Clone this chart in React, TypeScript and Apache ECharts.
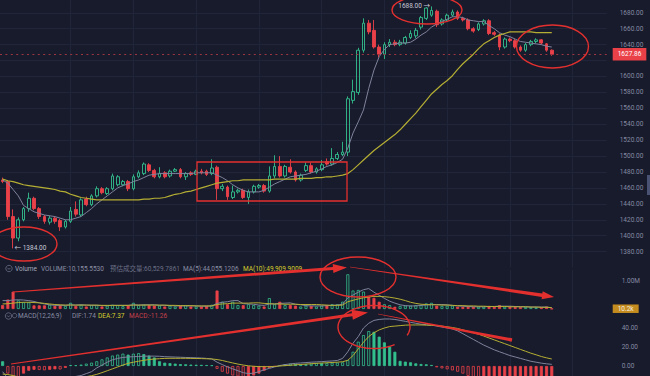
import React, { useEffect, useRef } from "react";
import * as echarts from "echarts";

// ---------------- DATA ----------------
const SLOT_COUNT = 116; // category slots on the time axis (106 candles + empty space on the right)
const gridLineIdx = [13, 25, 37, 49, 61, 73, 85, 97, 109];

const opens = [1470,1468,1424,1397,1420,1434,1447,1434,1424,1417, 1422,1419,1411,1418,1433,1426,1446,1439,1450,1459, 1453,1459,1464,1464,1468,1459,1474,1478,1489,1482, 1474,1479,1475,1481,1483,1474,1479,1477,1481,1481, 1478,1486,1459,1461,1448,1455,1457,1448,1455,1461, 1463,1456,1475,1487,1475,1486,1480,1470,1482,1488, 1480,1483,1493,1490,1497,1502,1505,1570,1580,1633, 1667,1658,1637,1628,1640,1643,1640,1642,1649,1651, 1662,1673,1677,1682,1666,1671,1677,1681,1673,1671, 1660,1659,1666,1670,1655,1652,1637,1647,1645,1637, 1633,1640,1644,1646,1641,1633];
const closes = [1468,1424,1397,1420,1434,1447,1434,1424,1418,1422, 1418,1411,1418,1431,1427,1445,1439,1450,1459,1454, 1459,1475,1474,1468,1459,1474,1479,1490,1482,1474, 1478,1474,1481,1483,1474,1478,1477,1481,1479,1477, 1485,1459,1462,1449,1455,1457,1448,1455,1462,1463, 1456,1475,1487,1475,1487,1480,1470,1476,1488,1480, 1484,1489,1490,1497,1502,1505,1572,1581,1633,1667, 1656,1637,1628,1640,1643,1640,1643,1649,1654,1658, 1674,1686,1683,1665,1671,1677,1681,1673,1671,1660, 1657,1666,1670,1654,1653,1637,1647,1645,1637,1633, 1640,1644,1646,1642,1633,1627.86];
const highs = [1473,1470,1433,1423,1436,1454,1449,1436,1426,1425, 1424,1421,1420,1436,1443,1447,1449,1452,1462,1461, 1461,1478,1476,1470,1470,1477,1482,1492,1491,1484, 1486,1481,1483,1485,1485,1480,1481,1483,1484,1483, 1496,1488,1465,1463,1463,1459,1459,1458,1464,1465, 1465,1487,1501,1500,1489,1496,1482,1478,1492,1492, 1486,1495,1497,1510,1505,1518,1575,1596,1636,1673, 1671,1671,1640,1643,1647,1646,1646,1651,1658,1661, 1676,1687,1688,1684,1673,1679,1684,1683,1675,1673, 1662,1668,1672,1672,1657,1654,1649,1649,1647,1639, 1642,1646,1648,1647,1642,1634];
const lows = [1466,1420,1384,1393,1418,1430,1432,1421,1415,1414, 1415,1406,1409,1416,1424,1424,1437,1437,1448,1452, 1451,1457,1462,1462,1456,1457,1472,1476,1480,1472, 1472,1472,1473,1480,1472,1470,1475,1476,1477,1475, 1476,1445,1456,1445,1446,1453,1446,1440,1453,1459, 1454,1454,1472,1473,1473,1478,1468,1468,1480,1478, 1478,1481,1488,1488,1495,1500,1500,1566,1577,1630, 1653,1635,1624,1622,1637,1638,1638,1640,1647,1648, 1659,1671,1675,1662,1664,1669,1675,1671,1669,1658, 1655,1657,1664,1652,1651,1633,1635,1643,1635,1631, 1631,1638,1642,1640,1631,1626];

// price moving averages
const maShort = [1470,1466,1458,1450,1438,1434,1430,1428,1426,1425, 1424,1422,1420,1420,1422,1424,1429,1434,1440,1445, 1450,1455,1460,1463,1465,1468,1470,1473,1476,1477, 1478,1478,1478,1478,1478,1478,1478,1479,1479,1479, 1479,1476,1473,1469,1464,1460,1457,1455,1455,1455, 1457,1461,1465,1468,1471,1474,1475,1476,1477,1479, 1481,1484,1487,1489,1492,1496,1510,1529,1543,1558, 1585,1608,1625,1634,1640,1641,1642,1642,1643,1647, 1652,1656,1662,1666,1669,1672,1675,1675,1674,1671, 1670,1669,1669,1664,1660,1655,1652,1650,1647,1644, 1643,1642,1641,1640,1638,1637];
const maLong = [1471,1469,1468,1466,1464,1463,1462,1461,1460,1459, 1458,1456,1455,1452,1450,1448,1447,1446,1445,1445, 1445,1445,1445,1445,1445,1445,1445,1446,1446,1447, 1447,1448,1450,1452,1453,1455,1456,1458,1460,1462, 1464,1466,1467,1468,1469,1469,1470,1470,1470,1470, 1470,1470,1471,1471,1471,1471,1471,1472,1472,1472, 1473,1473,1474,1474,1475,1476,1478,1483,1489,1495, 1501,1507,1512,1517,1522,1527,1533,1540,1547,1554, 1562,1570,1578,1584,1590,1595,1601,1609,1616,1622, 1628,1635,1641,1645,1649,1652,1654,1656,1656,1656, 1656,1656,1655,1655,1655,1655];

// volume, in thousands
const volumes = [140,340,620,310,240,240,130,130,130,150, 110,140,110,220,110,150,90,140,140,90, 120,150,140,100,120,220,140,150,140,120, 120,90,120,90,120,140,90,90,90,110, 150,660,260,170,260,140,140,170,140,120, 90,390,170,260,140,140,120,90,120,110, 90,120,140,170,170,260,1240,660,680,620, 440,400,260,170,140,80,110,120,120,140, 140,200,220,120,110,120,120,80,80,80, 80,80,80,110,80,140,80,80,70,70, 70,70,60,60,90,10.155553];
const volMa5 = [300,300,320,330,320, 300,270,220,180,150, 130,130,130,150,140, 150,140,130,130,120, 120,130,130,130,130, 150,140,150,150,150, 130,130,120,110,110, 110,110,110,100,100, 110,200,240,260,300, 300,190,180,170,140, 130,180,180,200,210, 220,170,150,120,110, 110,110,120,130,140, 170,400,500,600,690, 730,600,490,380,280, 210,150,120,110,110, 130,140,160,160,160, 150,130,110,100,90, 80,80,80,90,90, 100,100,100,90,80, 80,70,70,70,70, 44.0551206];
const volMa10 = [180,190,210,230,240, 240,230,220,200,180, 160,150,140,140,140, 140,140,140,140,130, 130,130,130,130,130, 140,140,140,140,140, 140,140,130,130,120, 120,120,110,110,110, 110,160,180,190,210, 210,210,210,220,220, 200,190,180,180,170, 170,170,160,160,160, 160,150,140,130,130, 140,260,310,360,400, 430,450,450,440,420, 390,350,300,240,200, 170,160,150,150,140, 140,130,120,120,110, 110,100,100,90,90, 90,90,80,80,80, 80,70,70,60,60, 49.9099009];
const volEstimate = 60529.7861;

// MACD(12,26,9)
const macdHist = [5,-8,-14,-15,-8, -5,-4,-4.2,-4.5,-4, -3.5,-3.6,-2,1,0.8, 1.5,2.5,3.5,5,7, 9,11,12,13,12, 13,13.5,12.5,11,9, 5,3.5,3,2.5,2, 1.8,1.5,1.3,1.2,1, 0.8,-3,-6,-8,-10, -11,-12,-11.5,-10,-8, -5,-2,-0.8,1,2, 2.5,2,1.5,2,2.5, 3,3,3.2,3.5,3.6, 3.9,6.3,15,25.6,32.6, 36.8,36,30.9,24.9,20.4, 15,5.4,4.6,3.9,2.8, 2.1,1.8,1.1,-1.4,-2.5, -3.5,-4.6,-6,-8,-10.5, -13,-15,-14.8,-14.6,-14.4, -14.2,-14,-13.7,-13.4,-13, -12.7,-12.4,-12,-11.8,-11.5, -11.26];
const difLine = [-6,-13,-20,-22,-21, -20,-19,-18.5,-18,-17, -16,-15.5,-14,-12,-11, -10,-8,-6,-2,1, 4,6.5,8,9,9.5, 9.8,10,10.3,10.4,10.4, 10.2,9.8,9.6,9.4,9.2, 9,8.8,8.6,8.4,8, 7.5,4,1.5,-1,-3, -5,-7,-8,-7.5,-6, -4,-2.5,-1,0.5,1.5, 2.2,2.8,3.2,3.6,4, 4.3,4.6,5,5.3,5.8, 8,15,24,31,40, 45,48,49,49.5,49.5, 49,48,47,46,45, 44,43.5,43,42,41, 40,39,37,34,31, 28,25,22,19.5,17, 15,13,11,9.5,8, 6.5,5,4,3,2.3, 1.74];
const deaLine = [-8.5,-9,-10,-11.5,-12.5, -13,-13.5,-13.8,-14,-14, -14,-13.8,-13.5,-13,-12.5, -12,-11.2,-10.2,-8.8,-7, -5,-3,-1,1,2.8, 4,5,6,6.8,7.3, 7.7,8,8.1,8.1,8.1, 8.1,8,7.9,7.8,7.6, 7.4,6.8,5.8,4.5,3.2, 2,1,0.2,-0.3,-0.6, -0.7,-0.7,-0.4,0,0.4, 0.8,1.2,1.6,2,2.4, 2.8,3.1,3.4,3.7,4, 4.5,6,11,18,25, 31,35,38,40,41.5, 42,42.5,43,43.2,43.2, 43.2,43,42.8,42.5,42, 41.3,40.5,39.5,38,36.5, 35,33.5,31.5,29.5,27.5, 25.5,23.5,21.5,19.5,17.5, 15.5,13.5,11.8,10,8.6, 7.37];

// ---------------- STYLE ----------------
const BG = "#181b2b";
const GRID = "#21253a";
const AXIS_TXT = "#858aa2";
const GREEN = "#33bf8e";
const RED = "#ea4149";
const MA_GREY = "#7f839c";
const MA_YELLOW = "#b5ae34";
const ANNO = "#e3302f";
const FONT = 'Roboto, "Noto Sans CJK SC", sans-serif';
const FS = 6.5;

const fmtNum = (v: number, d: number) =>
  v.toLocaleString("en-US", { minimumFractionDigits: d, maximumFractionDigits: d });

// tapered red annotation stroke, optionally with an arrow head
function taper(x1: number, y1: number, x2: number, y2: number, w1: number, w2: number, headLen = 0, headW = 0) {
  const dx = x2 - x1, dy = y2 - y1;
  const len = Math.hypot(dx, dy);
  const ux = dx / len, uy = dy / len;
  const nx = -uy, ny = ux;
  const bx = x2 - ux * headLen, by = y2 - uy * headLen;
  const pts: number[][] = [[x1 + (nx * w1) / 2, y1 + (ny * w1) / 2], [bx + (nx * w2) / 2, by + (ny * w2) / 2]];
  if (headLen > 0) {
    pts.push([bx + (nx * headW) / 2, by + (ny * headW) / 2], [x2, y2], [bx - (nx * headW) / 2, by - (ny * headW) / 2]);
  }
  pts.push([bx - (nx * w2) / 2, by - (ny * w2) / 2], [x1 - (nx * w1) / 2, y1 - (ny * w1) / 2]);
  return { type: "polygon", z: 100, silent: true, shape: { points: pts }, style: { fill: ANNO } };
}

function ellipse(cx: number, cy: number, rx: number, ry: number) {
  return { type: "ellipse", z: 100, silent: true, shape: { cx, cy, rx, ry }, style: { fill: "transparent", stroke: ANNO, lineWidth: 1.4 } };
}

function openEllipse(cx: number, cy: number, rx: number, ry: number, a0: number, a1: number) {
  const pts: number[][] = [];
  for (let a = a0; a <= a1; a += 4) {
    const t = (a * Math.PI) / 180;
    pts.push([cx + rx * Math.cos(t), cy + ry * Math.sin(t)]);
  }
  return { type: "polyline", z: 100, silent: true, shape: { points: pts }, style: { fill: "transparent", stroke: ANNO, lineWidth: 1.4 } };
}

function txt(text: string, x: number, y: number, fill: string) {
  return { type: "text", x, y, z: 50, silent: true, style: { text, fill, fontSize: FS, fontFamily: FONT, verticalAlign: "middle", align: "left" } };
}

function buildOption() {
  const N = opens.length;
  const last = N - 1;
  const cats = Array.from({ length: SLOT_COUNT }, (_, i) => String(i));
  const candleData = opens.map((o, i) => [o, closes[i], lows[i], highs[i]]);
  const up = (i: number) => closes[i] >= opens[i];
  const hiVal = Math.max(...highs);
  const hiIdx = highs.indexOf(hiVal);
  const loVal = Math.min(...lows);
  const loIdx = lows.indexOf(loVal);
  const lastClose = closes[last];

  const volData = volumes.map((v, i) => ({
    value: v,
    itemStyle: up(i)
      ? { color: "rgba(0,0,0,0)", borderColor: GREEN, borderWidth: 0.8 }
      : { color: RED, borderColor: RED, borderWidth: 0.8 },
  }));
  const macdData = macdHist.map((h, i) => {
    const c = h >= 0 ? GREEN : RED;
    const hollow = i > 0 && Math.abs(h) > Math.abs(macdHist[i - 1]);
    return { value: h, itemStyle: { color: hollow ? "rgba(0,0,0,0)" : c, borderColor: c, borderWidth: 0.8 } };
  });

  const GW = 606.7;
  const grids = [
    { left: 0, width: GW, top: -3.12, height: 270.64 },
    { left: 0, width: GW, top: 269.8, height: 39.2 },
    { left: 0, width: GW, top: 309, height: 76 },
  ].map((g) => ({ ...g, containLabel: false, outerBoundsMode: "none", show: false }));

  const xAxes = [0, 1, 2].map((k) => ({
    type: "category",
    gridIndex: k,
    data: cats,
    boundaryGap: true,
    axisLine: { show: false },
    axisTick: { show: false },
    axisLabel: { show: false },
    splitLine: { show: false },
  }));

  const priceTickCount = (1700 - 1360) / 20 + 1;
  const priceSplitColors = Array.from({ length: priceTickCount }, (_, k) =>
    k === 0 || k === priceTickCount - 1 ? "rgba(0,0,0,0)" : GRID
  );
  const yBase = {
    type: "value",
    position: "right",
    axisLine: { show: false },
    axisTick: { show: false },
  };
  const yAxes = [
    {
      ...yBase, gridIndex: 0, min: 1360, max: 1700, interval: 20,
      axisLabel: {
        color: AXIS_TXT, fontSize: FS, fontFamily: FONT, margin: 13, showMinLabel: false, showMaxLabel: false,
        // the tick hidden under the last-price tag is not shown
        formatter: (v: number) => (Math.abs(v - lastClose) < 10 ? "" : v.toFixed(2)),
      },
      splitLine: { show: true, lineStyle: { color: priceSplitColors, width: 1 } },
    },
    {
      ...yBase, gridIndex: 1, min: 0, max: 1400, interval: 1000,
      axisLabel: { color: AXIS_TXT, fontSize: FS, fontFamily: FONT, margin: 15, showMinLabel: false, showMaxLabel: false, formatter: (v: number) => (v / 1000).toFixed(2) + "M" },
      splitLine: { show: false },
    },
    {
      ...yBase, gridIndex: 2, min: -20, max: 60, interval: 20,
      axisLabel: { color: AXIS_TXT, fontSize: FS, fontFamily: FONT, margin: 15, showMinLabel: false, showMaxLabel: false, formatter: (v: number) => v.toFixed(2) },
      splitLine: { show: false },
    },
  ];

  const vLines = (k: number) => ({
    type: "line",
    xAxisIndex: k,
    yAxisIndex: k,
    data: [],
    silent: true,
    z: 1,
    markLine: {
      silent: true,
      z: 1,
      symbol: ["none", "none"],
      label: { show: false },
      lineStyle: { color: GRID, width: 1, type: "solid" },
      data: gridLineIdx.map((i) => ({ xAxis: i })),
    },
  });

  const line = (data: number[], k: number, color: string, width = 1) => ({
    type: "line",
    xAxisIndex: k,
    yAxisIndex: k,
    data,
    symbol: "none",
    showSymbol: false,
    silent: true,
    z: 4,
    lineStyle: { color, width },
  });

  const series: any[] = [
    vLines(0),
    vLines(1),
    vLines(2),
    {
      type: "candlestick",
      xAxisIndex: 0,
      yAxisIndex: 0,
      data: candleData,
      barWidth: 3.2,
      z: 3,
      itemStyle: { color: "rgba(0,0,0,0)", color0: RED, borderColor: GREEN, borderColor0: RED, borderWidth: 0.9 },
      markLine: {
        silent: true,
        z: 6,
        symbol: ["none", "none"],
        data: [{ yAxis: lastClose }],
        lineStyle: { color: "#9c3540", type: [2, 3.4], width: 1 },
        label: { show: true, position: "end", formatter: lastClose.toFixed(2), backgroundColor: RED, color: "#ffffff", padding: [3, 5], fontSize: FS, fontFamily: FONT, distance: 6 },
      },
      markPoint: {
        silent: true,
        symbol: "circle",
        symbolSize: 1,
        itemStyle: { color: "rgba(0,0,0,0)" },
        label: { show: true, color: "#c6c9d8", fontSize: FS, fontFamily: FONT },
        data: [
          { coord: [hiIdx, hiVal], label: { position: "left", distance: 1, formatter: hiVal.toFixed(2) + " →" } },
          { coord: [loIdx, loVal], label: { position: "right", distance: 1, formatter: "← " + loVal.toFixed(2) } },
        ],
      },
    },
    line(maShort, 0, MA_GREY, 1),
    line(maLong, 0, MA_YELLOW, 1.2),
    {
      type: "bar",
      xAxisIndex: 1,
      yAxisIndex: 1,
      data: volData,
      barWidth: 3,
      z: 3,
      markLine: {
        silent: true,
        symbol: ["none", "none"],
        data: [{ yAxis: volumes[last] }],
        lineStyle: { color: "rgba(0,0,0,0)", width: 0 },
        label: { show: true, position: "end", formatter: volumes[last].toFixed(1) + "k", backgroundColor: "#c48c1f", color: "#f4efe0", padding: [1, 5], fontSize: FS, fontFamily: FONT, distance: 6 },
      },
    },
    line(volMa5, 1, MA_GREY, 1),
    line(volMa10, 1, MA_YELLOW, 1),
    {
      type: "bar",
      xAxisIndex: 2,
      yAxisIndex: 2,
      data: macdData,
      barWidth: 3,
      z: 3,
    },
    line(difLine, 2, MA_GREY, 1),
    line(deaLine, 2, MA_YELLOW, 1),
  ];

  const icon = (cx: number, cy: number) => [
    { type: "circle", z: 50, silent: true, shape: { cx, cy, r: 3.2 }, style: { fill: "transparent", stroke: "#6a6f87", lineWidth: 0.8 } },
    { type: "polyline", z: 50, silent: true, shape: { points: [[cx - 1.5, cy - 0.6], [cx, cy + 0.9], [cx + 1.5, cy - 0.6]] }, style: { fill: "transparent", stroke: "#6a6f87", lineWidth: 0.8 } },
  ];

  const graphic: any[] = [
    ...icon(9, 268.5),
    txt("Volume", 15, 268.5, "#a5a9bd"),
    txt("VOLUME:" + fmtNum(volumes[last] * 1000, 4), 41, 268.5, "#8a8ea4"),
    txt("预估成交量:" + fmtNum(volEstimate, 4), 110, 268.5, "#6c7087"),
    txt("MA(5):" + fmtNum(volMa5[last] * 1000, 4), 183, 268.5, "#8a8ea4"),
    txt("MA(10):" + fmtNum(volMa10[last] * 1000, 4), 243, 268.5, "#d5cc2e"),
    ...icon(8.5, 316),
    { type: "circle", z: 50, silent: true, shape: { cx: 14.6, cy: 315.6, r: 2.2 }, style: { fill: "transparent", stroke: "#6a6f87", lineWidth: 0.8 } },
    txt("MACD(12,26,9)", 18, 316, "#8a8ea4"),
    txt("DIF:" + difLine[last].toFixed(2), 72, 316, "#8a8ea4"),
    txt("DEA:" + deaLine[last].toFixed(2), 98, 316, "#d5cc2e"),
    txt("MACD:" + macdHist[last].toFixed(2), 129, 316, "#c8414b"),
    { type: "rect", z: 50, silent: true, shape: { x: 647, y: 175, width: 3, height: 20 }, style: { fill: "#4a5273" } },
    // hand-drawn annotations
    ellipse(24, 244, 33, 17),
    ellipse(427, 10, 35, 14),
    ellipse(552.5, 46.5, 36, 21.5),
    { type: "rect", z: 100, silent: true, shape: { x: 197, y: 162, width: 150, height: 39 }, style: { fill: "transparent", stroke: ANNO, lineWidth: 1.3 } },
    ellipse(358, 277, 38, 20),
    openEllipse(374, 327, 36, 21.5, 55, 385),
    taper(13, 292, 347, 267.5, 0.8, 3.2, 14, 9),
    taper(350, 267, 554, 297, 0.5, 3.4, 12, 8),
    taper(11, 364, 368, 312.5, 0.8, 3.2, 16, 10),
    taper(378, 314, 512, 340, 0.5, 3.4),
  ];

  return {
    animation: false,
    backgroundColor: BG,
    textStyle: { fontFamily: FONT },
    grid: grids,
    xAxis: xAxes,
    yAxis: yAxes,
    series,
    graphic,
  };
}

export default function App() {
  const ref = useRef<HTMLDivElement>(null);
  useEffect(() => {
    document.body.style.margin = "0";
    document.body.style.background = BG;
    const chart = echarts.init(ref.current!, null, { renderer: "svg" });
    chart.setOption(buildOption() as any);
    return () => chart.dispose();
  }, []);
  return <div ref={ref} style={{ width: 650, height: 376 }} />;
}
